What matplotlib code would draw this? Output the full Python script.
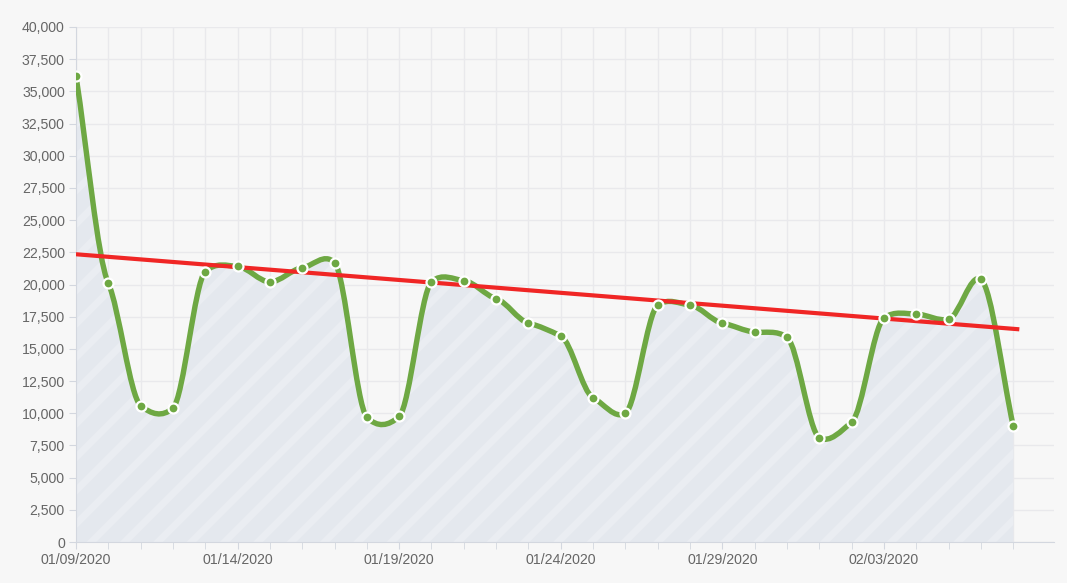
import matplotlib
matplotlib.use("Agg")
import matplotlib.pyplot as plt
import matplotlib.dates as mdates
from matplotlib.path import Path
from matplotlib.patches import PathPatch
import numpy as np
import pandas as pd

dates = pd.date_range("2020-01-09", "2020-02-07", freq="D")
values = [36200, 20100, 10600, 10400, 21000, 21400, 20200, 21300, 21700, 9700,
          9750, 20200, 20300, 18900, 17000, 16000, 11200, 10000, 18400, 18400,
          17000, 16300, 15900, 8100, 9300, 17400, 17700, 17300, 20400, 9000]

# trend line end points
trend_dates = ["2020-01-09 00:00", "2020-02-07 04:30"]
trend_values = [22350, 16520]

GREEN = "#6ea843"
RED = "#f02625"
BG = "#f7f7f7"


def smooth_path(x, y, div=14.0):
    # bezier segments through every point (softened catmull-rom),
    # end segments kept almost straight
    n = len(x)
    verts = [(x[0], y[0])]
    codes = [Path.MOVETO]
    for i in range(n - 1):
        dx = x[i + 1] - x[i]
        if i > 0:
            c1 = (x[i] + dx / 3.0, y[i] + (y[i + 1] - y[i - 1]) / div)
        else:
            c1 = (x[i] + dx / 3.0, y[i] + (y[i + 1] - y[i]) / 3.0)
        if i + 2 < n:
            c2 = (x[i + 1] - dx / 3.0, y[i + 1] - (y[i + 2] - y[i]) / div)
        else:
            c2 = (x[i + 1] - dx / 3.0, y[i + 1] - (y[i + 1] - y[i]) / 3.0)
        verts += [c1, c2, (x[i + 1], y[i + 1])]
        codes += [Path.CURVE4] * 3
    return verts, codes


plt.rcParams["font.family"] = ["Liberation Sans", "DejaVu Sans"]
plt.rcParams["hatch.linewidth"] = 5.0
plt.rcParams["hatch.color"] = "#eaedf2"

fig = plt.figure(figsize=(10.67, 5.83), dpi=100, facecolor=BG)
ax = fig.add_axes([0.0712, 0.0703, 0.9166, 0.8834], facecolor=BG)

xs = mdates.date2num(dates)
ys = np.array(values, dtype=float)
verts, codes = smooth_path(xs, ys)

# area under curve
fill_verts = verts + [(xs[-1], 0), (xs[0], 0), (xs[0], ys[0])]
fill_codes = codes + [Path.LINETO, Path.LINETO, Path.CLOSEPOLY]
ax.add_patch(PathPatch(Path(fill_verts, fill_codes), facecolor="#e4e8ee",
                       edgecolor="none", zorder=1))
ax.add_patch(PathPatch(Path(fill_verts, fill_codes), facecolor="none",
                       edgecolor="#eaedf2", linewidth=0, hatch="/", zorder=1.5))

ax.add_patch(PathPatch(Path(verts, codes), facecolor="none", edgecolor=GREEN,
                       linewidth=3.9, capstyle="round", joinstyle="round", zorder=3))

ax.plot(pd.to_datetime(trend_dates), trend_values, color=RED, linewidth=3.0,
        solid_capstyle="butt", zorder=4)

ax.plot(dates, values, linestyle="none", marker="o", markersize=7.2,
        markerfacecolor=GREEN, markeredgecolor="white", markeredgewidth=1.6,
        zorder=5)

ax.set_ylim(0, 40000)
ax.set_xlim(xs[0], xs[0] + 30.26)
ax.set_yticks(np.arange(0, 40001, 2500))
ax.yaxis.set_major_formatter(matplotlib.ticker.FuncFormatter(lambda v, p: f"{int(v):,}"))

ax.xaxis.set_major_locator(matplotlib.ticker.FixedLocator(xs[::5]))
ax.xaxis.set_minor_locator(matplotlib.ticker.FixedLocator(xs))
ax.xaxis.set_major_formatter(mdates.DateFormatter("%m/%d/%Y"))

ax.grid(True, which="both", axis="x", color="#e9e9ec", linewidth=1.0, zorder=0)
ax.grid(True, which="major", axis="y", color="#e9e9ec", linewidth=1.0, zorder=0)
ax.set_axisbelow(True)

for side in ["top", "right"]:
    ax.spines[side].set_visible(False)
ax.spines["left"].set_color("#d3d7df")
ax.spines["bottom"].set_color("#d3d7df")

ax.tick_params(axis="both", which="both", length=5, color="#d3d7df",
               labelcolor="#666666", labelsize=10.2, pad=3)

fig.savefig("out.png", dpi=100, facecolor=BG)
